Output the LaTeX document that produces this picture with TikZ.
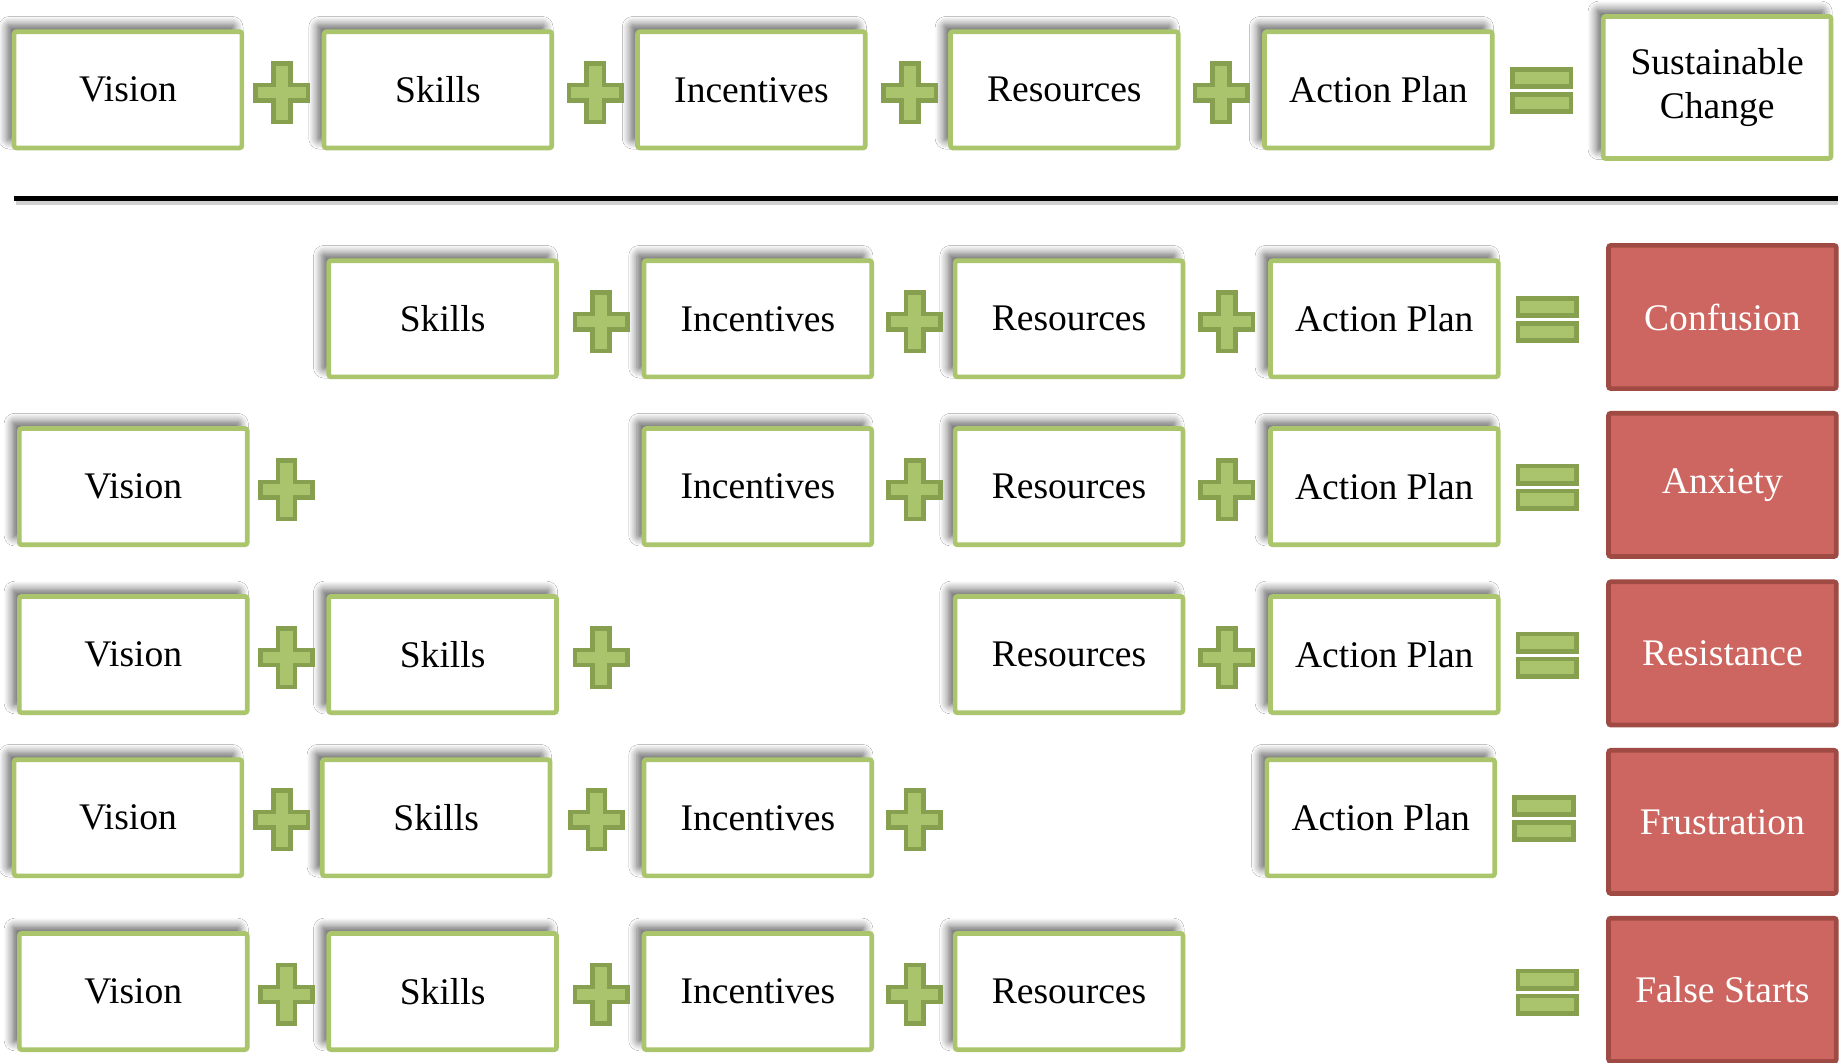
\documentclass[tikz,border=0pt]{standalone}
\usepackage{fontspec}
\setmainfont{Liberation Serif}
\usetikzlibrary{shadows.blur}
\definecolor{boxgreen}{RGB}{170,197,108}
\definecolor{plusfill}{RGB}{170,196,110}
\definecolor{plusdark}{RGB}{134,160,79}
\definecolor{redfill}{RGB}{205,102,96}
\definecolor{reddark}{RGB}{160,74,68}
\begin{document}
\begin{tikzpicture}[x=0.5pt,y=-0.5pt,
  lbl/.style={font=\fontsize{16}{19}\selectfont, align=center, inner sep=0pt},
  gbox/.style={lbl, draw=boxgreen, line width=2pt, fill=white, rounded corners=1pt,
    minimum width=97pt, minimum height=49.5pt,
    blur shadow={shadow xshift=-3pt, shadow yshift=3pt, shadow blur radius=3.5pt, shadow opacity=60, shadow blur steps=8}},
  bigbox/.style={gbox, minimum height=60.5pt},
  rbox/.style={lbl, draw=reddark, line width=2pt, fill=redfill, text=white, rounded corners=1pt,
    minimum width=97pt, minimum height=61pt},
  plussign/.pic={\path[draw=plusdark, fill=plusfill, line width=2pt]
    (-7.3,-25) -- (7.3,-25) -- (7.3,-6.5) -- (22.3,-6.5) -- (22.3,6.5) -- (7.3,6.5)
    -- (7.3,25) -- (-7.3,25) -- (-7.3,6.5) -- (-22.3,6.5) -- (-22.3,-6.5) -- (-7.3,-6.5) -- cycle;},
  equalsign/.pic={\path[draw=plusdark, fill=plusfill, line width=2pt]
    (-25,-18) rectangle (25,-3.3) (-25,3.3) rectangle (25,18);}
]
\path[use as bounding box, fill=white] (0,0) rectangle (1568,905);
\clip (0,0) rectangle (1568,905);

% Row 0
\node[gbox] (v0) at (109,76.5) {Vision};
\node[gbox] (s0) at (373,76.5) {Skills};
\node[gbox] (i0) at (640,76.5) {Incentives};
\node[gbox] (r0) at (906.5,76.5) {Resources};
\node[gbox] (a0) at (1174,76.5) {Action Plan};
\node[bigbox] (sc) at (1462.5,74.5) {\raisebox{-2.5pt}{\begin{tabular}{@{}c@{}}Sustainable\\Change\end{tabular}}};
\pic at (240,79) {plussign};
\pic at (507,79) {plussign};
\pic at (775,79) {plussign};
\pic at (1040,79) {plussign};
\pic at (1313,77) {equalsign};

% divider
\coordinate (lineL) at (12,169);
\coordinate (lineR) at (1565,169);
\coordinate (shL) at (14,173);
\coordinate (shR) at (1565,173);
\draw[line width=2pt, black!30, opacity=0.6] (shL) -- (shR);
\draw[line width=2.25pt] (lineL) -- (lineR);

% Row 1
\node[gbox] (s1) at (377,271.5) {Skills};
\node[gbox] (i1) at (645.5,271.5) {Incentives};
\node[gbox] (r1) at (910.5,271.5) {Resources};
\node[gbox] (a1) at (1179,271.5) {Action Plan};
\node[rbox] (c1) at (1467,270) {Confusion};
\pic at (512,274) {plussign};
\pic at (779,274) {plussign};
\pic at (1045,274) {plussign};
\pic at (1318,272) {equalsign};

% Row 2
\node[gbox] (v2) at (113.5,414.5) {Vision};
\node[gbox] (i2) at (645.5,414.5) {Incentives};
\node[gbox] (r2) at (910.5,414.5) {Resources};
\node[gbox] (a2) at (1179,414.5) {Action Plan};
\node[rbox] (c2) at (1467,413) {Anxiety};
\pic at (244,417) {plussign};
\pic at (779,417) {plussign};
\pic at (1045,417) {plussign};
\pic at (1318,415) {equalsign};

% Row 3
\node[gbox] (v3) at (113.5,557.5) {Vision};
\node[gbox] (s3) at (377,557.5) {Skills};
\node[gbox] (r3) at (910.5,557.5) {Resources};
\node[gbox] (a3) at (1179,557.5) {Action Plan};
\node[rbox] (c3) at (1467,556.5) {Resistance};
\pic at (244,560) {plussign};
\pic at (512,560) {plussign};
\pic at (1045,560) {plussign};
\pic at (1318,558) {equalsign};

% Row 4
\node[gbox] (v4) at (109,696.5) {Vision};
\node[gbox] (s4) at (371.5,696.5) {Skills};
\node[gbox] (i4) at (645.5,696.5) {Incentives};
\node[gbox] (a4) at (1176,696.5) {Action Plan};
\node[rbox] (c4) at (1467,700) {Frustration};
\pic at (240,698) {plussign};
\pic at (508,698) {plussign};
\pic at (779,698) {plussign};
\pic at (1315,697) {equalsign};

% Row 5
\node[gbox] (v5) at (113.5,844.5) {Vision};
\node[gbox] (s5) at (377,844.5) {Skills};
\node[gbox] (i5) at (645.5,844.5) {Incentives};
\node[gbox] (r5) at (910.5,844.5) {Resources};
\node[rbox] (c5) at (1467,843) {False Starts};
\pic at (244,847) {plussign};
\pic at (512,847) {plussign};
\pic at (779,847) {plussign};
\pic at (1318,845) {equalsign};
\end{tikzpicture}
\end{document}
